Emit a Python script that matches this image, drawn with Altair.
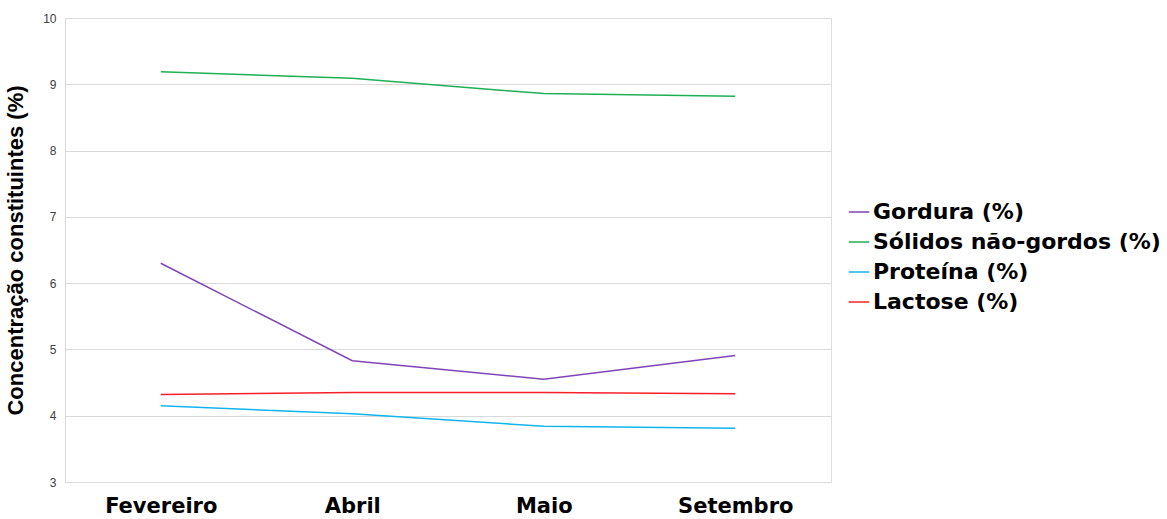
import altair as alt
import pandas as pd

# Monthly milk composition (%)
months = ["Fevereiro", "Abril", "Maio", "Setembro"]
series_names = ["Gordura (%)", "Sólidos não-gordos (%)", "Proteína (%)", "Lactose (%)"]
gordura = [6.30, 4.83, 4.55, 4.91]
solidos = [9.19, 9.09, 8.86, 8.82]
proteina = [4.15, 4.03, 3.84, 3.81]
lactose = [4.32, 4.35, 4.35, 4.33]
series_colors = ["#7F45B8", "#1FAF55", "#12B4EC", "#F7202A"]

rows = []
for name, values in zip(series_names, [gordura, solidos, proteina, lactose]):
    for m, v in zip(months, values):
        rows.append({"Mês": m, "Série": name, "Valor": v})
df = pd.DataFrame(rows)

font = "Liberation Sans"
wide_font = "DejaVu Sans"

chart = (
    alt.Chart(df)
    .mark_line(strokeWidth=1.5)
    .encode(
        x=alt.X(
            "Mês:N",
            sort=months,
            scale=alt.Scale(paddingInner=0, paddingOuter=0.5),
            axis=alt.Axis(
                title=None,
                labelAngle=0,
                labelFont=wide_font,
                labelFontSize=21,
                labelFontWeight="bold",
                labelColor="#000000",
                labelPadding=13,
                ticks=False,
                domain=False,
                grid=False,
            ),
        ),
        y=alt.Y(
            "Valor:Q",
            scale=alt.Scale(domain=[3, 10], nice=False, zero=False),
            axis=alt.Axis(
                title="Concentração constituintes (%)",
                titleFont=font,
                titleFontSize=22,
                titleFontWeight="bold",
                titleColor="#000000",
                titlePadding=15,
                values=[3, 4, 5, 6, 7, 8, 9, 10],
                labelFont=font,
                labelFontSize=12,
                labelColor="#404040",
                labelPadding=9,
                ticks=False,
                domain=True,
                domainColor="#D9D9D9",
                grid=True,
                gridColor="#D9D9D9",
                gridWidth=1,
            ),
        ),
        color=alt.Color(
            "Série:N",
            scale=alt.Scale(domain=series_names, range=series_colors),
            legend=alt.Legend(
                title=None,
                orient="none",
                legendX=783,
                legendY=183,
                symbolType="stroke",
                symbolSize=420,
                symbolStrokeWidth=1.5,
                labelFont=wide_font,
                labelFontSize=22,
                labelFontWeight="bold",
                labelColor="#000000",
                labelOffset=3,
                rowPadding=8,
                labelLimit=400,
            ),
        ),
    )
    .properties(
        width=766,
        height=464,
        autosize=alt.AutoSizeParams(type="none"),
        padding={"left": 65, "top": 18, "right": 336, "bottom": 37},
    )
    .configure_view(stroke=None)
    .configure(background="#FFFFFF")
)

chart.save("out.html", embed_options={"renderer": "svg", "actions": False})
